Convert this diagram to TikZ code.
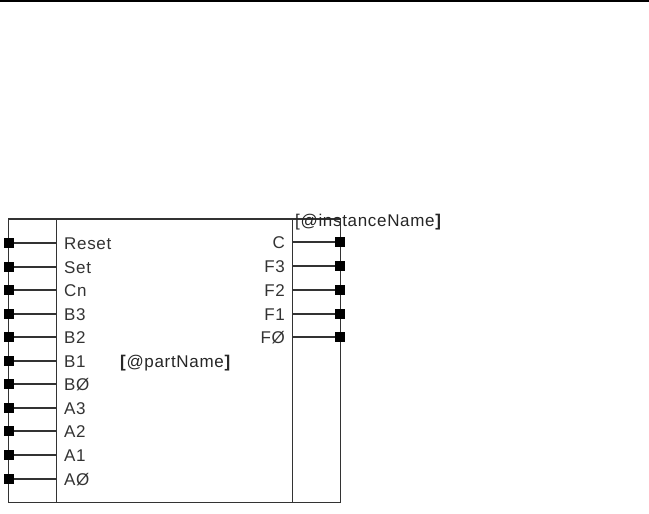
\documentclass[tikz,border=0pt]{standalone}
\usepackage{fontspec}
\setmainfont[LetterSpace=4]{Liberation Sans}
\tikzset{
    pin/.style={draw=none, fill=black, minimum size=9.5pt, inner sep=0pt},
    wire/.style={line width=1.3pt, draw=black!80},
    pinlabel/.style={inner sep=0pt, font=\fontsize{17}{18}\selectfont, text=black!80, text height=12.5pt, text depth=0pt},
    namelabel/.style={inner sep=0pt, font=\fontsize{17}{18}\selectfont, text=black!85, text height=12.5pt, text depth=0pt}
}
\begin{document}
\begin{tikzpicture}[x=1pt, y=-1pt]
    \useasboundingbox (0,0) rectangle (649,514);
    \coordinate (ruleL) at (0,1);
    \coordinate (ruleR) at (649,1);
    \draw[line width=2pt] (ruleL) -- (ruleR);
    \coordinate (outerNW) at (8.7,219);
    \coordinate (outerSE) at (340.7,502.5);
    \coordinate (leftT) at (56.7,219);
    \coordinate (leftB) at (56.7,502.5);
    \coordinate (rightT) at (292.7,219);
    \coordinate (rightB) at (292.7,502.5);
    \draw[wire] (outerNW) rectangle (outerSE);
    \draw[wire] (leftT) -- (leftB);
    \draw[wire] (rightT) -- (rightB);
    % input side
    \foreach \name/\ypos in {Reset/243, Set/267, Cn/290, B3/314, B2/337, B1/361, BØ/384, A3/408, A2/431, A1/455, AØ/479} {
        \node[pin] (in\ypos) at (9,\ypos) {};
        \coordinate (inEnd\ypos) at (56.7,\ypos);
        \node[pinlabel, anchor=west] (inLabel\ypos) at (64,\ypos) {\name};
        \draw[wire] (in\ypos) -- (inEnd\ypos);
    }
    % output side
    \foreach \name/\ypos in {C/242, F3/266, F2/290, F1/314, FØ/337} {
        \node[pin] (out\ypos) at (340,\ypos) {};
        \coordinate (outEnd\ypos) at (292.7,\ypos);
        \node[pinlabel, anchor=east] (outLabel\ypos) at (285,\ypos) {\name};
        \draw[wire] (out\ypos) -- (outEnd\ypos);
    }
    \node[namelabel, anchor=west] (partName) at (120,361) {\textbf{[}@partName\textbf{]}};
    \node[namelabel, anchor=west] (instanceName) at (295,220) {[@instanceName\textbf{]}};
\end{tikzpicture}
\end{document}
